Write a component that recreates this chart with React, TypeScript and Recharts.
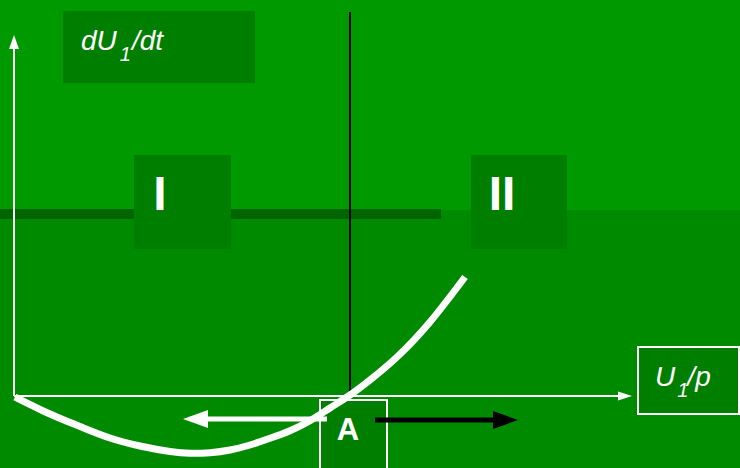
import React from 'react';
import {
  ComposedChart,
  Line,
  XAxis,
  YAxis,
  ReferenceArea,
  ReferenceLine,
  ReferenceDot,
} from 'recharts';

// Curve dU1/dt as a function of U1/p (schematic units, origin at axes crossing)
const uValues = [1, 36, 66, 96, 126, 156, 176, 196, 216, 236, 256, 276, 296, 316, 336, 356, 383, 416, 451];
const dUValues = [-1, -18, -30.5, -42, -50, -55.5, -57.3, -56.7, -54, -49, -42.3, -34.7, -24.7, -12, 1, 16, 39, 74, 119];

const yAxisLabel = ['dU', '1', '/dt'];
const xAxisLabel = ['U', '1', '/p'];
const regionLabels = ['I', 'II'];
const pointLabel = 'A';

const curveData = uValues.map((u, i) => ({ u, v: dUValues[i] }));

const W = 740;
const H = 468;
const FONT = '"Liberation Sans", Arial, Helvetica, sans-serif';

const C_TOP = '#009900';
const C_BOTTOM = '#008a00';
const C_BOX = '#007e00';
const C_BAND = '#006400';

const Arrow = (color: string, width: number, headLen: number, headHalf: number) =>
  function ArrowShape(props: any) {
    const { x1, y1, x2, y2 } = props;
    const dx = x2 - x1;
    const dy = y2 - y1;
    const len = Math.sqrt(dx * dx + dy * dy) || 1;
    const ux = dx / len;
    const uy = dy / len;
    const bx = x2 - ux * headLen;
    const by = y2 - uy * headLen;
    const px = -uy * headHalf;
    const py = ux * headHalf;
    return (
      <g>
        <line x1={x1} y1={y1} x2={bx + ux} y2={by + uy} stroke={color} strokeWidth={width} />
        <polygon
          points={`${x2},${y2} ${bx + px},${by + py} ${bx - px},${by - py}`}
          fill={color}
        />
      </g>
    );
  };

const SubText = (parts: string[], size: number, subSize: number, sub: number, gapIn: number, gapOut: number) =>
  function SubTextShape(props: any) {
    return (
      <text
        x={props.cx}
        y={props.cy}
        fill="#ffffff"
        fontFamily={FONT}
        fontStyle="italic"
        fontSize={size}
      >
        <tspan>{parts[0]}</tspan>
        <tspan dx={gapIn} dy={sub} fontSize={subSize}>{parts[1]}</tspan>
        <tspan dx={gapOut} dy={-sub}>{parts[2]}</tspan>
      </text>
    );
  };

const BoldText = (txt: string, size: number) =>
  function BoldTextShape(props: any) {
    return (
      <text
        x={props.cx}
        y={props.cy}
        fill="#ffffff"
        fontFamily={FONT}
        fontWeight="bold"
        fontSize={size}
        textAnchor="middle"
      >
        {txt}
      </text>
    );
  };

export default function App() {
  return (
    <div style={{ position: 'absolute', left: 0, top: 0, width: W, height: H }}>
      <ComposedChart
        width={W}
        height={H}
        data={curveData}
        margin={{ top: 0, right: 0, bottom: 0, left: 0 }}
      >
        <XAxis dataKey="u" type="number" domain={[-14, 726]} hide allowDataOverflow />
        <YAxis type="number" domain={[-72, 396]} hide allowDataOverflow />

        {/* backgrounds */}
        <ReferenceArea x1={-14} x2={726} y1={186} y2={396} fill={C_TOP} fillOpacity={1} stroke="none" />
        <ReferenceArea x1={-14} x2={726} y1={-72} y2={186} fill={C_BOTTOM} fillOpacity={1} stroke="none" />
        <ReferenceArea x1={-14} x2={427} y1={177} y2={187} fill={C_BAND} fillOpacity={1} stroke="none" />

        {/* label boxes */}
        <ReferenceArea x1={49} x2={241} y1={313} y2={385} fill={C_BOX} fillOpacity={1} stroke="none" />
        <ReferenceArea x1={120} x2={217} y1={147} y2={241} fill={C_BOX} fillOpacity={1} stroke="none" />
        <ReferenceArea x1={457} x2={553} y1={147} y2={241} fill={C_BOX} fillOpacity={1} stroke="none" />
        <ReferenceArea x1={624} x2={725} y1={-18} y2={49} fill={C_BOX} fillOpacity={1} stroke="#ffffff" strokeWidth={2} />
        <ReferenceArea x1={306} x2={373} y1={-80} y2={-4} fill={C_BOX} fillOpacity={1} stroke="#ffffff" strokeWidth={2} ifOverflow="visible" />

        {/* divider */}
        <ReferenceLine segment={[{ x: 336, y: 0 }, { x: 336, y: 384 }]} stroke="#000000" strokeWidth={2} />

        {/* axes */}
        <ReferenceLine segment={[{ x: 0, y: 0 }, { x: 0, y: 361 }]} shape={Arrow('#ffffff', 2, 14, 5)} />
        <ReferenceLine segment={[{ x: 0, y: 0 }, { x: 618, y: 0 }]} shape={Arrow('#ffffff', 2, 14, 4.5)} />

        {/* direction arrows */}
        <ReferenceLine segment={[{ x: 313, y: -23 }, { x: 169, y: -23 }]} shape={Arrow('#ffffff', 5, 25, 9)} />
        <ReferenceLine segment={[{ x: 361, y: -24 }, { x: 504, y: -24 }]} shape={Arrow('#000000', 5, 25, 9)} />

        <Line
          dataKey="v"
          type="natural"
          stroke="#ffffff"
          strokeWidth={7}
          dot={false}
          activeDot={false}
          isAnimationActive={false}
        />

        {/* texts */}
        <ReferenceDot x={67} y={346} r={0} shape={SubText(yAxisLabel, 28, 20, 11, 3, 1)} />
        <ReferenceDot x={641} y={10} r={0} shape={SubText(xAxisLabel, 28, 20, 11, 2, -1)} />
        <ReferenceDot x={146} y={186} r={0} shape={BoldText(regionLabels[0], 48)} />
        <ReferenceDot x={488} y={186} r={0} shape={BoldText(regionLabels[1], 48)} />
        <ReferenceDot x={334} y={-44} r={0} shape={BoldText(pointLabel, 31)} />
      </ComposedChart>
    </div>
  );
}
